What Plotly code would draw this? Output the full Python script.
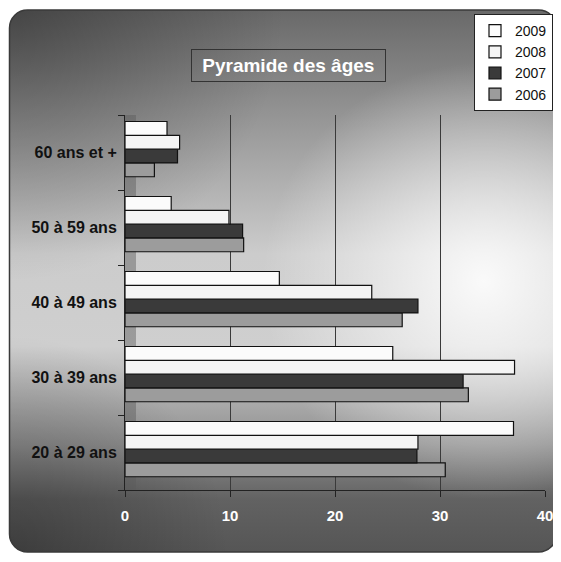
import base64
import plotly.graph_objects as go

categories = ["20 à 29 ans", "30 à 39 ans", "40 à 49 ans", "50 à 59 ans", "60 ans et +"]
years = ["2006", "2007", "2008", "2009"]
v2006 = [30.5, 32.7, 26.4, 11.3, 2.8]
v2007 = [27.8, 32.2, 27.9, 11.2, 5.0]
v2008 = [27.9, 37.1, 23.5, 9.9, 5.2]
v2009 = [37.0, 25.5, 14.7, 4.4, 4.0]
values = {"2006": v2006, "2007": v2007, "2008": v2008, "2009": v2009}
colors = {"2006": "#9c9c9c", "2007": "#3a3a3a", "2008": "#f4f4f4", "2009": "#fbfbfb"}
# bar placement inside each category band (the rods sit slightly above the band centre)
bar_width = 0.184
bar_offset = {"2009": 0.229, "2008": 0.045, "2007": -0.139, "2006": -0.323}
x_ticks = [0, 10, 20, 30, 40]

# the page body has an 8px margin, so the figure is drawn 8px lower and to the right
OFF = 8
W, H = 561 - OFF, 562 - 2 * OFF
L, R, T = 125 - OFF, 16, 115 - OFF
B = H - (490 - OFF)
pw, ph = W - L - R, H - T - B


def px(x):  # reference pixel x -> paper x
    return (x - OFF - L) / pw


def py(y):  # reference pixel y -> paper y
    return (T + ph - (y - OFF)) / ph


svg = f'''<svg xmlns="http://www.w3.org/2000/svg" width="{W}" height="{H}" viewBox="0 0 {W} {H}">
<defs>
<linearGradient id="v" x1="0" y1="0" x2="0" y2="1">
<stop offset="0" stop-color="#686868"/>
<stop offset="0.2" stop-color="#959595"/>
<stop offset="0.45" stop-color="#cccccc"/>
<stop offset="0.62" stop-color="#cfcfcf"/>
<stop offset="0.8" stop-color="#8e8e8e"/>
<stop offset="0.9" stop-color="#626262"/>
<stop offset="1" stop-color="#555555"/>
</linearGradient>
<radialGradient id="hl" cx="0.86" cy="0.5" r="0.4">
<stop offset="0" stop-color="#ffffff" stop-opacity="0.9"/>
<stop offset="1" stop-color="#ffffff" stop-opacity="0"/>
</radialGradient>
<radialGradient id="tl" cx="0" cy="0" r="0.5">
<stop offset="0" stop-color="#000000" stop-opacity="0.35"/>
<stop offset="1" stop-color="#000000" stop-opacity="0"/>
</radialGradient>
<radialGradient id="bl" cx="0" cy="1" r="0.4">
<stop offset="0" stop-color="#000000" stop-opacity="0.3"/>
<stop offset="1" stop-color="#000000" stop-opacity="0"/>
</radialGradient>
<clipPath id="c"><rect x="1.5" y="2" width="547" height="542" rx="18" ry="18"/></clipPath>
</defs>
<rect x="0" y="0" width="{W}" height="{H}" fill="#ffffff"/>
<g clip-path="url(#c)">
<rect x="0" y="0" width="{W}" height="{H}" fill="url(#v)"/>
<rect x="0" y="0" width="{W}" height="{H}" fill="url(#hl)"/>
<rect x="0" y="0" width="{W}" height="{H}" fill="url(#tl)"/>
<rect x="0" y="0" width="{W}" height="{H}" fill="url(#bl)"/>
</g>
<rect x="1.5" y="2" width="547" height="542" rx="18" ry="18" fill="none" stroke="#3a3a3a" stroke-width="1.5"/>
</svg>'''
src = "data:image/svg+xml;base64," + base64.b64encode(svg.encode("utf-8")).decode("ascii")

fig = go.Figure()
for y in years:
    fig.add_trace(go.Bar(
        y=categories, x=values[y], name=y, orientation="h",
        width=bar_width, offset=bar_offset[y],
        marker=dict(color=colors[y], line=dict(color="#111111", width=1.2)),
    ))

fig.update_layout(
    width=W, height=H,
    margin=dict(l=L, r=R, t=T, b=B, autoexpand=False),
    paper_bgcolor="rgba(0,0,0,0)",
    plot_bgcolor="rgba(255,255,255,0.10)",
    barmode="overlay",
    font=dict(family="Liberation Sans, Arial, sans-serif", color="#111111"),
    images=[dict(
        source=src, xref="paper", yref="paper",
        x=-L / pw, y=(ph + T) / ph, sizex=W / pw, sizey=H / ph,
        xanchor="left", yanchor="top", sizing="stretch", layer="below",
    )],
    legend=dict(
        x=px(553), xanchor="right", y=py(14), yanchor="top",
        traceorder="reversed", bgcolor="#ffffff", bordercolor="#222222", borderwidth=1,
        font=dict(size=14, color="#111111"), itemwidth=30,
    ),
    annotations=[dict(
        text="\u00a0Pyramide des âges\u00a0", xref="paper", yref="paper",
        x=px(288), y=py(65), xanchor="center", yanchor="middle",
        showarrow=False, font=dict(size=19, color="#ffffff", weight="bold"),
        bordercolor="#333333", borderwidth=1, borderpad=5,
    )],
    shapes=[dict(
        type="rect", xref="paper", yref="paper", x0=0, x1=11 / pw, y0=0, y1=1,
        fillcolor="rgba(90,90,90,0.45)", line=dict(width=0), layer="below",
    )],
)
fig.update_xaxes(
    range=[0, 40], tickvals=x_ticks, showgrid=True, gridcolor="#3a3a3a", gridwidth=1,
    zeroline=False, showline=True, linecolor="#222222", linewidth=1,
    ticks="outside", ticklen=6, tickcolor="#222222",
    tickfont=dict(size=15, color="#ffffff", weight="bold",
                  family="Liberation Sans, Arial, sans-serif"),
    ticklabelstandoff=6,
)
fig.update_yaxes(
    categoryorder="array", categoryarray=categories,
    range=[-0.5, 4.5],
    showline=True, linecolor="#222222", linewidth=1,
    ticks="outside", ticklen=6, tickcolor="#222222", tickson="boundaries",
    tickfont=dict(size=16, color="#111111", weight="bold",
                  family="Liberation Sans, Arial, sans-serif"),
    ticklabelstandoff=4,
)

fig.write_html("out.html")
